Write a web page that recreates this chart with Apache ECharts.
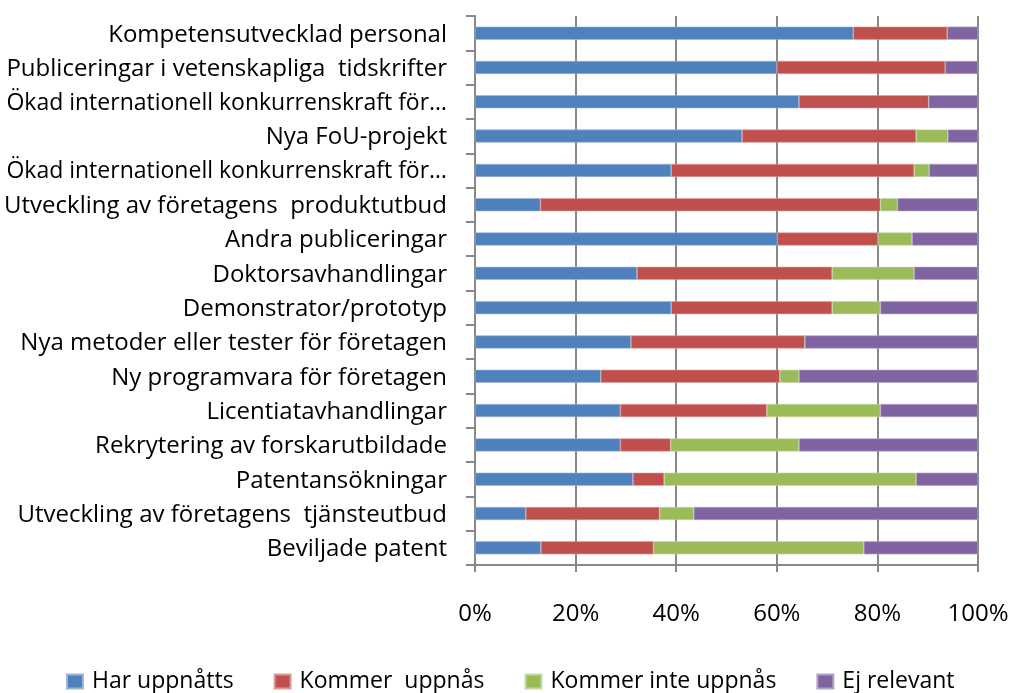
<!DOCTYPE html>
<html>
<head>
<meta charset="utf-8">
<script src="https://cdn.jsdelivr.net/npm/echarts@6/dist/echarts.min.js"></script>
<style>
    html, body { margin: 0; padding: 0; background: #fff; }
    #chart { width: 1013px; height: 693px; }
</style>
</head>
<body>
<div id="chart"></div>
<script>
    // categories, top to bottom
    var categories = [
        'Kompetensutvecklad personal',
        'Publiceringar i vetenskapliga  tidskrifter',
        'Ökad internationell konkurrenskraft för…',
        'Nya FoU-projekt',
        'Ökad internationell konkurrenskraft för…',
        'Utveckling av företagens  produktutbud',
        'Andra publiceringar',
        'Doktorsavhandlingar',
        'Demonstrator/prototyp',
        'Nya metoder eller tester för företagen',
        'Ny programvara för företagen',
        'Licentiatavhandlingar',
        'Rekrytering av forskarutbildade',
        'Patentansökningar',
        'Utveckling av företagens  tjänsteutbud',
        'Beviljade patent'
    ];

    // percent shares
    var harUppnatts      = [75.2, 60.0, 64.4, 53.1, 39.0, 13.0, 60.1, 32.2, 39.0, 31.0, 25.0, 28.9, 28.9, 31.4, 10.1, 13.1];
    var kommerUppnas     = [18.7, 33.5, 25.8, 34.6, 48.3, 67.6, 20.0, 38.8, 32.0, 34.6, 35.6, 29.1, 10.0,  6.2, 26.6, 22.4];
    var kommerInteUppnas = [ 0.0,  0.0,  0.0,  6.3,  3.0,  3.4,  6.8, 16.3,  9.6,  0.0,  3.8, 22.6, 25.5, 50.1,  6.8, 41.8];
    var ejRelevant       = [ 6.1,  6.5,  9.8,  6.0,  9.7, 16.0, 13.1, 12.7, 19.4, 34.4, 35.6, 19.4, 35.6, 12.3, 56.5, 22.7];

    var xTicks = [0, 20, 40, 60, 80, 100];

    var seriesNames = ['Har uppnåtts', 'Kommer  uppnås', 'Kommer inte uppnås', 'Ej relevant'];
    var seriesData = [harUppnatts, kommerUppnas, kommerInteUppnas, ejRelevant];
    var colors = ['#4F81BD', '#C0504D', '#9BBB59', '#8064A2'];
    var borders = ['#9db6d8', '#dc9c9a', '#c6d9a8', '#b3a3c9'];

    var fontFamily = 'Open Sans';
    var gridColor = '#888888';

    var chart = echarts.init(document.getElementById('chart'), null, {renderer: 'canvas'});

    var series = seriesNames.map(function (name, i) {
        return {
            name: name,
            type: 'bar',
            stack: 'total',
            barCategoryGap: '62%',
            data: seriesData[i],
            itemStyle: {
                color: colors[i],
                borderColor: borders[i],
                borderWidth: 0.6
            },
            emphasis: {disabled: true}
        };
    });

    chart.setOption({
        animation: false,
        textStyle: {fontFamily: fontFamily},
        grid: {left: 475, right: 35, top: 16, bottom: 128, containLabel: false, outerBoundsMode: 'none'},
        legend: {
            bottom: -5,
            left: 61,
            itemWidth: 16,
            itemHeight: 14,
            itemGap: 40,
            icon: 'rect',
            textStyle: {fontSize: 23, color: '#000', fontFamily: fontFamily, padding: [0, 0, 0, 4]},
            data: seriesNames
        },
        xAxis: {
            type: 'value',
            min: xTicks[0],
            max: xTicks[xTicks.length - 1],
            interval: 20,
            axisLine: {show: true, lineStyle: {color: gridColor, width: 2}},
            axisTick: {show: true, length: 7, lineStyle: {color: gridColor, width: 2}},
            splitLine: {show: true, lineStyle: {color: gridColor, width: 2}},
            axisLabel: {
                formatter: '{value}%',
                fontSize: 24,
                color: '#000',
                margin: 37
            }
        },
        yAxis: {
            type: 'category',
            inverse: true,
            data: categories,
            axisLine: {show: true, lineStyle: {color: gridColor, width: 2}},
            axisTick: {show: true, length: 9, lineStyle: {color: gridColor, width: 2}},
            axisLabel: {
                fontSize: 24,
                color: '#000',
                margin: 28,
                padding: [3, 0, 0, 0],
                // the truncated labels are the longest, draw them a bit smaller so they fit
                formatter: function (v) {
                    return v.length > 38 && v.charAt(v.length - 1) === '…' ? '{s|' + v + '}' : v;
                },
                rich: {s: {fontSize: 23, color: '#000', fontFamily: fontFamily}}
            }
        },
        series: series
    });
</script>
</body>
</html>
